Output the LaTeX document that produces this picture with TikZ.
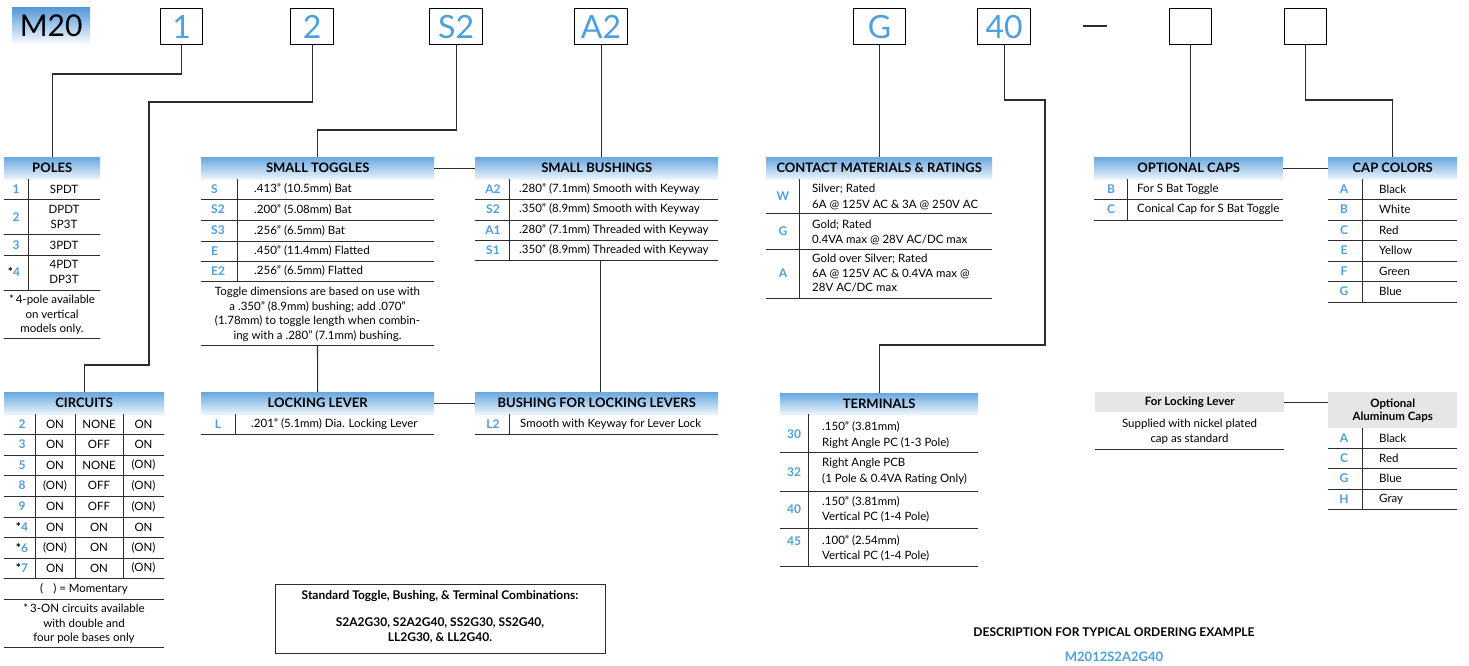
\documentclass[tikz,border=0pt]{standalone}
\usepackage{fontspec}
\setmainfont{Lato}
\definecolor{cblue}{RGB}{77,160,220}
\definecolor{htop}{RGB}{104,168,224}
\definecolor{hbot}{RGB}{238,244,251}
\definecolor{mtop}{RGB}{84,150,216}
\definecolor{rulec}{RGB}{45,45,45}
\definecolor{hgray}{RGB}{230,230,230}
\newcommand\astk{\textcolor{black}{*}}
\newcommand\hr[3]{\draw[rule] (#1,#3) -- (#2,#3);}
\newcommand\vr[3]{\draw[rule] (#1,#2) -- (#1,#3);}
\newcommand\cd[3]{\node[code] at (#1,#2) {#3};}
\newcommand\tx[3]{\node[txt,anchor=west] at (#1,#2) {#3};}
\newcommand\tc[3]{\node[txt] at (#1,#2) {#3};}
% \bx{style}{name}{x1}{y1}{x2}{y2}{text}
\newcommand\bx[7]{\node[#1, anchor=north west, minimum width={(#5-#3)*1pt}, minimum height={(#6-#4)*1pt}] (#2) at (#3,#4) {#7};}
\tikzset{
 rule/.style={draw=rulec,line width=0.9pt},
 conn/.style={draw=rulec,line width=1.1pt},
 hdr/.style={inner sep=0pt, top color=htop, bottom color=hbot, font=\fontsize{13}{14}\selectfont\bfseries},
 ghdr/.style={inner sep=0pt, fill=hgray, font=\fontsize{11.5}{13}\selectfont\bfseries, align=center},
 code/.style={inner sep=0pt, text=cblue, font=\fontsize{12}{13}\selectfont\bfseries},
 txt/.style={inner sep=0pt, font=\fontsize{11.5}{14.5}\selectfont},
 txtw/.style={txt, font=\fontsize{11.5}{15.5}\selectfont, align=left, anchor=west},
 topbox/.style={draw=black, line width=1.2pt, inner sep=0pt, fill=white, text=cblue, font=\fontsize{32}{32}\selectfont},
 m20box/.style={inner sep=0pt, top color=mtop, bottom color=white, font=\fontsize{30}{30}\selectfont},
 plain/.style={draw=rulec, line width=1pt, inner sep=0pt},
}
\begin{document}
\begin{tikzpicture}[x=1pt,y=-1pt]
\fill[white] (0,0) rectangle (1469,666);
\useasboundingbox (0,0) rectangle (1469,666);

% ---------- top row
\bx{m20box}{m20}{12}{7}{90}{45}{M20}
\bx{topbox}{b1}{160}{8}{202}{44}{1}
\bx{topbox}{b2}{290}{8}{333}{44}{2}
\bx{topbox}{b3}{429}{8}{482}{44}{S2}
\bx{topbox}{b4}{574}{8}{627}{44}{A2}
\bx{topbox}{b5}{853}{8}{905}{44}{G}
\bx{topbox}{b6}{977}{8}{1030}{44}{40}
\coordinate (d1) at (1083,26); \coordinate (d2) at (1107,26);
\draw[conn] (d1) -- (d2);
\bx{topbox}{b7}{1169}{8}{1211}{44}{}
\bx{topbox}{b8}{1284}{8}{1326}{44}{}

% ---------- headers
\bx{hdr}{polesH}{4}{157}{100}{179}{POLES}
\bx{hdr}{circH}{4}{392}{164}{414}{CIRCUITS}
\bx{hdr}{togH}{201}{157}{434}{179}{SMALL TOGGLES}
\bx{hdr}{bushH}{475}{157}{718}{179}{SMALL BUSHINGS}
\bx{hdr}{contH}{766}{157}{992}{179}{CONTACT MATERIALS \& RATINGS}
\bx{hdr}{capsH}{1094}{157}{1283}{179}{OPTIONAL CAPS}
\bx{hdr}{colH}{1328}{157}{1457}{179}{CAP COLORS}
\bx{hdr}{lockH}{201}{392}{434}{414}{LOCKING LEVER}
\bx{hdr}{blH}{475}{392}{718}{414}{BUSHING FOR LOCKING LEVERS}
\bx{hdr}{termH}{780}{393}{978}{414}{TERMINALS}
\bx{ghdr}{fllH}{1095}{392}{1284}{412}{For Locking Lever}
\bx{ghdr}{alH}{1328}{392}{1457}{428}{Optional\\Aluminum Caps}

% ---------- connectors
\draw[conn] (b1.south) -- (b1.south |- 0,74) -| (polesH.north);
\draw[conn] (b2.south) |- (149,102) -- (149,365) -| (circH.north);
\draw[conn] (b3.south) |- (togH.north |- 0,130) -- (togH.north);
\draw[conn] (b4.south) -- (b4.south |- bushH.north);
\draw[conn] (b5.south) -- (b5.south |- contH.north);
\draw[conn] (b6.south) |- (1045,100) |- (termH.north |- 0,345) -- (termH.north);
\draw[conn] (b7.south) -- (b7.south |- capsH.north);
\draw[conn] (b8.south) |- (colH.north |- 0,100) -- (colH.north);
\draw[conn] (togH.east) -- (bushH.west);
\draw[conn] (capsH.east) -- (colH.west);
\draw[conn] (lockH.east) -- (blH.west);
\draw[conn] (fllH.east) -- (fllH.east -| alH.west);
\coordinate (togB) at (317.5,345);
\draw[conn] (togB) -- (lockH.north);
\coordinate (bushB) at (600.5,260);
\draw[conn] (bushB) -- (bushB |- blH.north);

% ---------- POLES
\vr{28}{179}{290}
\foreach \y in {199,234,255,290,338} {\hr{4}{100}{\y}}
\cd{16}{189}{1} \tc{64}{189}{SPDT}
\cd{16}{217}{2} \node[txt,align=center] at (64,217) {DPDT\\SP3T};
\cd{16}{245}{3} \tc{64}{245}{3PDT}
\cd{14}{272}{\astk4} \node[txt,align=center] at (64,272) {4PDT\\DP3T};
\node[txt,align=center] at (52,315) {*\,4-pole available\\on vertical\\models only.};

% ---------- CIRCUITS
\foreach \x in {35,75,123} {\vr{\x}{414}{578}}
\foreach \y in {434,455,475,496,517,537,558,578,599,647} {\hr{4}{164}{\y}}
\foreach \y/\c/\a/\b/\d in {424/2/ON/NONE/ON, 444.5/3/ON/OFF/ON, 465/5/ON/NONE/(ON), 485.5/8/(ON)/OFF/(ON), 506.5/9/ON/OFF/(ON), 527/\astk4/ON/ON/ON, 547.5/\astk6/(ON)/ON/(ON), 568/\astk7/ON/ON/(ON)}
 {\cd{22}{\y}{\c} \tc{55}{\y}{\a} \tc{99}{\y}{\b} \tc{143.5}{\y}{\d}}
\node[txt] at (84,589) {(\hspace{10pt}) = Momentary};
\node[txt,align=center] at (84,624) {*\,3-ON circuits available\\with double and\\four pole bases only};

% ---------- SMALL TOGGLES
\vr{237}{179}{281}
\foreach \y in {199,220,241,261,281,345} {\hr{201}{434}{\y}}
\foreach \y/\c/\t in {189/S/.413” (10.5mm) Bat, 209.5/S2/.200” (5.08mm) Bat, 230.5/S3/.256” (6.5mm) Bat, 251/E/.450” (11.4mm) Flatted, 271/E2/.256” (6.5mm) Flatted}
 {\node[code,anchor=west] at (211,\y) {\c}; \tx{254}{\y}{\t}}
\node[txt,align=center] at (317.5,314.5) {Toggle dimensions are based on use with\\a .350” (8.9mm) bushing; add .070”\\(1.78mm) to toggle length when combin-\\ing with a .280” (7.1mm) bushing.};

% ---------- SMALL BUSHINGS
\vr{509}{179}{260}
\foreach \y in {199,220,240,260} {\hr{475}{718}{\y}}
\foreach \y/\c/\t in {189/A2/.280” (7.1mm) Smooth with Keyway, 209.5/S2/.350” (8.9mm) Smooth with Keyway, 230/A1/.280” (7.1mm) Threaded with Keyway, 250/S1/.350” (8.9mm) Threaded with Keyway}
 {\cd{493}{\y}{\c} \tx{519}{\y}{\t}}

% ---------- CONTACT MATERIALS
\vr{799}{179}{298}
\foreach \y in {213,249,298} {\hr{766}{992}{\y}}
\cd{783}{196}{W} \cd{783}{231}{G} \cd{783}{273.5}{A}
\node[txtw] at (812,197) {Silver; Rated\\6A @ 125V AC \& 3A @ 250V AC};
\node[txtw] at (812,232.5) {Gold; Rated\\0.4VA max @ 28V AC/DC max};
\node[txtw, font=\fontsize{11.5}{14.5}\selectfont] at (812,273.5) {Gold over Silver; Rated\\6A @ 125V AC \& 0.4VA max @\\28V AC/DC max};

% ---------- OPTIONAL CAPS
\vr{1127}{179}{220}
\foreach \y in {199,220} {\hr{1094}{1283}{\y}}
\cd{1111}{189}{B} \tx{1137}{189}{For S Bat Toggle}
\cd{1111}{209.5}{C} \tx{1137}{209.5}{Conical Cap for S Bat Toggle}

% ---------- CAP COLORS
\vr{1362}{179}{302}
\foreach \y in {199,220,240,261,281,302} {\hr{1328}{1457}{\y}}
\foreach \y/\c/\t in {189/A/Black, 209.5/B/White, 230/C/Red, 250.5/E/Yellow, 271/F/Green, 291.5/G/Blue}
 {\cd{1344}{\y}{\c} \tx{1379}{\y}{\t}}

% ---------- LOCKING LEVER
\vr{235}{414}{434}
\hr{201}{434}{434}
\cd{218}{424}{L} \tx{251}{424}{.201” (5.1mm) Dia. Locking Lever}

% ---------- BUSHING FOR LOCKING LEVERS
\vr{509}{414}{434}
\hr{475}{718}{434}
\cd{493}{424}{L2} \tx{520}{424}{Smooth with Keyway for Lever Lock}

% ---------- TERMINALS
\vr{808}{414}{566}
\foreach \y in {452,491,528,566} {\hr{780}{978}{\y}}
\cd{794}{434}{30} \cd{794}{472}{32} \cd{794}{509}{40} \cd{794}{541}{45}
\node[txtw] at (822,435) {.150” (3.81mm)\\Right Angle PC (1-3 Pole)};
\node[txtw] at (822,471.5) {Right Angle PCB\\(1 Pole \& 0.4VA Rating Only)};
\node[txtw] at (822,509.5) {.150” (3.81mm)\\Vertical PC (1-4 Pole)};
\node[txtw] at (822,548.5) {.100” (2.54mm)\\Vertical PC (1-4 Pole)};

% ---------- FOR LOCKING LEVER
\node[txt,align=center] at (1189.5,431.5) {Supplied with nickel plated\\cap as standard};
\hr{1095}{1284}{449}

% ---------- OPTIONAL ALUMINUM CAPS
\vr{1362}{428}{509}
\foreach \y in {448,468,489,509} {\hr{1328}{1457}{\y}}
\foreach \y/\c/\t in {438/A/Black, 458/C/Red, 478.5/G/Blue, 499/H/Gray}
 {\cd{1344}{\y}{\c} \tx{1379}{\y}{\t}}

% ---------- standard combinations box
\bx{plain}{stdbox}{275}{584}{605}{653}{}
\node[inner sep=0pt, font=\fontsize{12}{13}\selectfont\bfseries] (stdT) at (440,596) {Standard Toggle, Bushing, \& Terminal Combinations:};
\node[inner sep=0pt, align=center, font=\fontsize{12}{15.5}\selectfont\bfseries] (stdL) at (440,630.5) {S2A2G30, S2A2G40, SS2G30, SS2G40,\\LL2G30, \& LL2G40.};

% ---------- description
\node[inner sep=0pt, font=\fontsize{12}{13}\selectfont\bfseries] (desc) at (1114,632) {DESCRIPTION FOR TYPICAL ORDERING EXAMPLE};
\node[inner sep=0pt, text=cblue, font=\fontsize{13}{14}\selectfont\bfseries] (ex) at (1114,657) {M2012S2A2G40};
\end{tikzpicture}
\end{document}
